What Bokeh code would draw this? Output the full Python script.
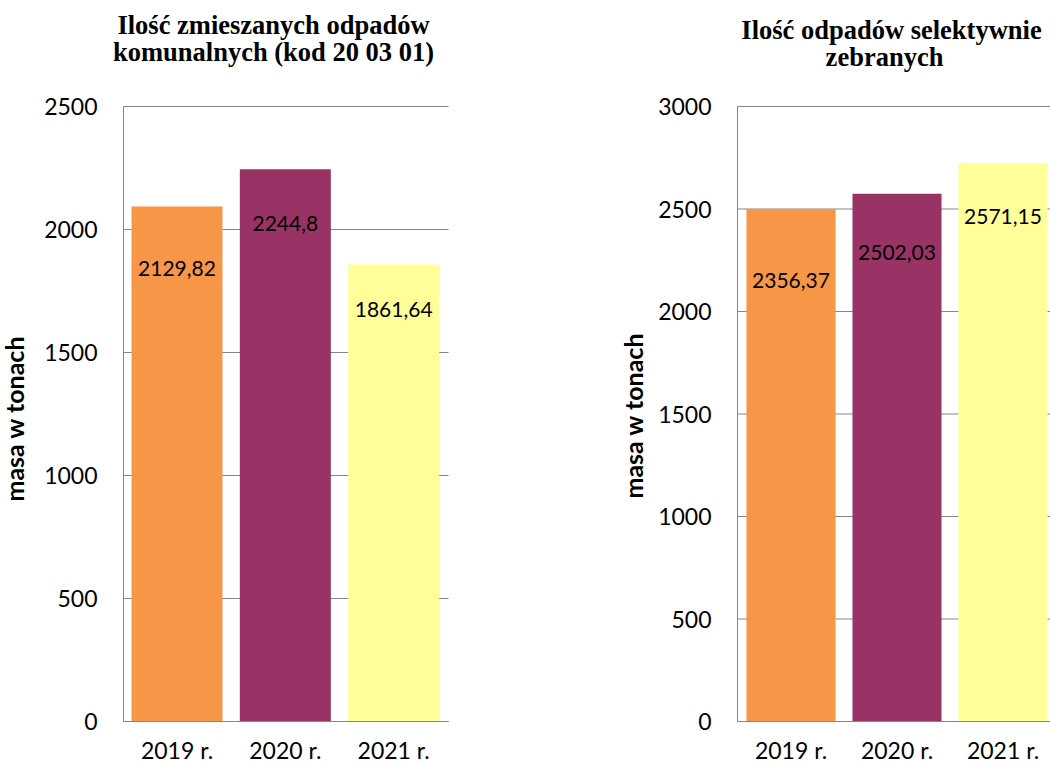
from math import pi
from bokeh.plotting import figure
from bokeh.layouts import row
from bokeh.models import Range1d, ColumnDataSource
from bokeh.embed import file_html
from bokeh.resources import INLINE

# ---------------- data ----------------
years = ["2019 r.", "2020 r.", "2021 r."]
mixed_values = [2094, 2245, 1858]
mixed_labels = ["2129,82", "2244,8", "1861,64"]
selective_values = [2500, 2575, 2725]
selective_labels = ["2356,37", "2502,03", "2571,15"]
mixed_ticks = [0, 500, 1000, 1500, 2000, 2500]
selective_ticks = [0, 500, 1000, 1500, 2000, 2500, 3000]
mixed_title = ["Ilość zmieszanych odpadów", "komunalnych (kod 20 03 01)"]
selective_title = ["Ilość odpadów selektywnie", "zebranych"]
y_title = "masa w tonach"

# ---------------- style ----------------
bar_colors = ["#F79646", "#993366", "#FFFF99"]
grid_color = "#868686"
SANS = "Lato"
SERIF = "Liberation Serif"

FIG_H = 766
AXIS_TOP, ZERO_ROW = 106, 721   # pixel rows of the value-axis top and of zero
YEAR_ROW = 749                  # pixel row of the category labels' centre


def make_chart(page_left, width, x0_px, xppu, axis_px, right_px, ymax, ticks,
               values, labels, label_drops, tick_right_px, ylab_center,
               title_lines, title_centers, title_mids):
    ppu = (ZERO_ROW - AXIS_TOP) / ymax

    def dx(px):
        return (px - x0_px) / xppu

    def dy(py):
        return (ZERO_ROW - py) / ppu

    p = figure(width=width, height=FIG_H, output_backend="svg",
               toolbar_location=None, y_axis_location=None, x_axis_location=None,
               x_range=Range1d(dx(page_left), dx(page_left + width)),
               y_range=Range1d(dy(FIG_H), dy(0)),
               min_border_left=0, min_border_right=0, min_border_top=0,
               min_border_bottom=0)
    p.title.visible = False
    p.outline_line_color = None
    p.background_fill_color = "white"
    p.border_fill_color = "white"
    p.grid.visible = False

    x_lo, x_hi = dx(axis_px), dx(right_px)

    # horizontal grid lines at the value ticks
    p.segment(x0=[x_lo] * len(ticks), x1=[x_hi] * len(ticks), y0=ticks, y1=ticks,
              line_color=grid_color, line_width=1)

    xs = list(range(len(years)))
    src = ColumnDataSource(dict(x=xs, top=values, color=bar_colors, lab=labels,
                                ly=[v - d / ppu for v, d in zip(values, label_drops)]))
    p.vbar(x="x", top="top", bottom=0, width=0.84, color="color", source=src,
           line_color=None)
    p.text(x="x", y="ly", text="lab", source=src, text_align="center",
           text_baseline="middle", text_font_size="21px", text_color="black",
           text_font={"value": SANS})

    # value axis line, category axis line, tick labels, axis title
    p.segment(x0=[x_lo], x1=[x_lo], y0=[0], y1=[ymax], line_color=grid_color,
              line_width=1)
    p.segment(x0=[x_lo], x1=[x_hi], y0=[0], y1=[0], line_color=grid_color,
              line_width=1)
    p.text(x=[dx(tick_right_px)] * len(ticks), y=ticks,
           text=[str(t) for t in ticks], text_align="right",
           text_baseline="middle", text_font={"value": SANS},
           text_font_size="23px", text_color="black")
    p.text(x=[dx(ylab_center[0])], y=[dy(ylab_center[1])], text=[y_title],
           angle=pi / 2, text_align="center", text_baseline="middle",
           text_font={"value": SANS}, text_font_style="bold",
           text_font_size="25px", text_color="black")

    # category labels
    p.text(x=xs, y=[dy(YEAR_ROW)] * len(xs), text=years, text_align="center",
           text_baseline="middle", text_font={"value": SANS},
           text_font_size="23px", text_color="black")

    # chart title (two centred lines)
    p.text(x=[dx(c) for c in title_centers], y=[dy(m) for m in title_mids],
           text=title_lines, text_align="center", text_baseline="middle",
           text_font={"value": SERIF}, text_font_style="bold",
           text_font_size="26.5px", text_color="black")
    return p


left = make_chart(page_left=0, width=570, x0_px=176.5, xppu=108.33,
                  axis_px=123, right_px=448, ymax=2500, ticks=mixed_ticks,
                  values=mixed_values, labels=mixed_labels,
                  label_drops=[62, 54, 45], tick_right_px=97,
                  ylab_center=(13.5, 418), title_lines=mixed_title,
                  title_centers=[273, 273], title_mids=[24.5, 51.5])

right = make_chart(page_left=570, width=480, x0_px=790.5, xppu=106,
                   axis_px=737, right_px=1050, ymax=3000, ticks=selective_ticks,
                   values=selective_values, labels=selective_labels,
                   label_drops=[71, 59, 54], tick_right_px=711,
                   ylab_center=(632, 415), title_lines=selective_title,
                   title_centers=[891, 884], title_mids=[29, 56])

layout = row(left, right)
open("out.html", "w").write(file_html(layout, INLINE))
